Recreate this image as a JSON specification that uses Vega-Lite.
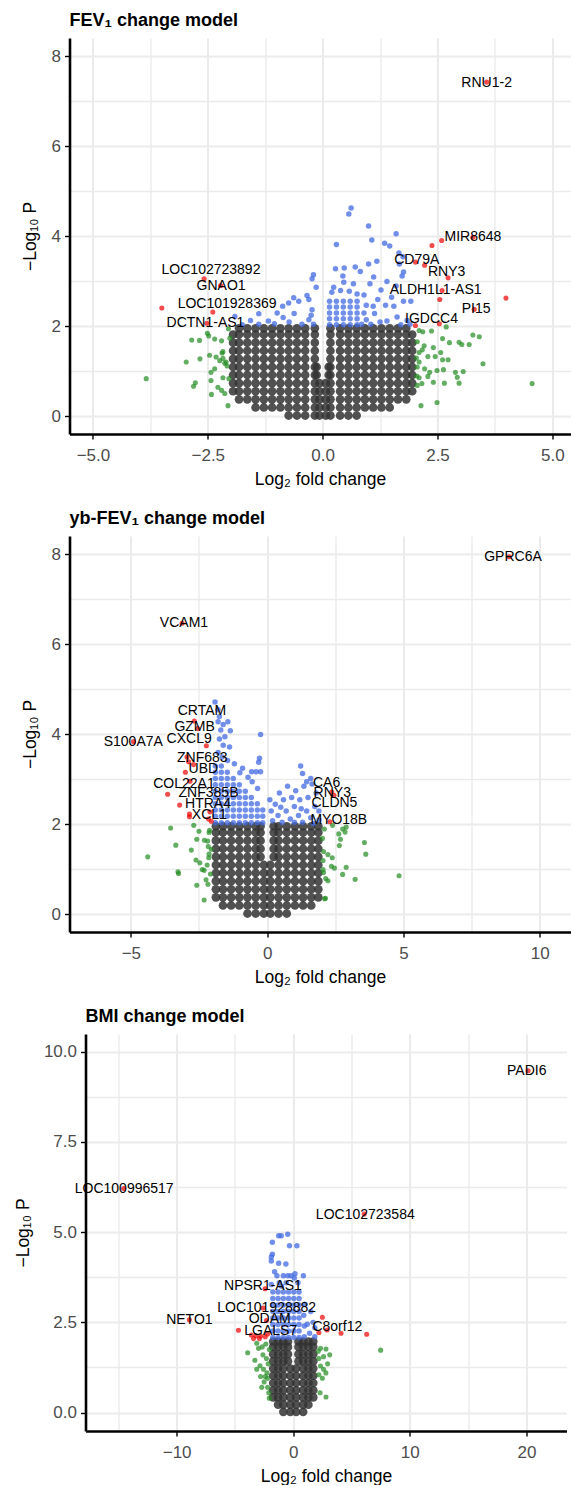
{
"$schema": "https://vega.github.io/schema/vega-lite/v6.json",
"background": "white",
"padding": {"left": 13.5, "top": 12, "right": 0, "bottom": 0},
"spacing": 22,
"columns": 1,
"config": {
  "font": "Liberation Sans",
  "view": {"stroke": null},
  "axis": {"domainColor": "black", "domainWidth": 2.6, "tickColor": "black", "tickWidth": 1.4, "tickSize": 5, "labelFontSize": 17, "labelColor": "#4d4d4d", "labelPadding": 4, "titleFontSize": 17.5, "titleFontWeight": "normal", "titleColor": "black", "gridColor": "#ebebeb", "labelFlush": false, "labelOverlap": false},
  "axisX": {"titlePadding": 7, "labelPadding": 8},
  "title": {"fontSize": 18, "fontWeight": "bold", "color": "black", "anchor": "start", "frame": "group", "offset": 8}
},
"datasets": {
"p1_ns": [
{"lfc":-0.07,"nlp":0.02},{"lfc":-0.07,"nlp":0.2},{"lfc":-0.07,"nlp":0.38},{"lfc":-0.07,"nlp":0.56},{"lfc":-0.07,"nlp":0.74},
{"lfc":-0.13,"nlp":0.92},{"lfc":-0.13,"nlp":1.1},
{"lfc":-0.17,"nlp":0.02},{"lfc":-0.17,"nlp":0.2},{"lfc":-0.17,"nlp":0.38},{"lfc":-0.17,"nlp":0.56},{"lfc":-0.17,"nlp":0.74},{"lfc":-0.17,"nlp":0.92},{"lfc":-0.17,"nlp":1.1},{"lfc":-0.17,"nlp":1.28},{"lfc":-0.17,"nlp":1.46},{"lfc":-0.17,"nlp":1.64},{"lfc":-0.17,"nlp":1.82},{"lfc":-0.17,"nlp":1.96},
{"lfc":-0.38,"nlp":0.02},{"lfc":-0.38,"nlp":0.2},{"lfc":-0.38,"nlp":0.38},{"lfc":-0.38,"nlp":0.56},{"lfc":-0.38,"nlp":0.74},{"lfc":-0.38,"nlp":0.92},{"lfc":-0.38,"nlp":1.1},{"lfc":-0.38,"nlp":1.28},{"lfc":-0.38,"nlp":1.46},{"lfc":-0.38,"nlp":1.64},{"lfc":-0.38,"nlp":1.82},{"lfc":-0.38,"nlp":1.96},
{"lfc":-0.56,"nlp":0.02},{"lfc":-0.56,"nlp":0.2},{"lfc":-0.56,"nlp":0.38},{"lfc":-0.56,"nlp":0.56},{"lfc":-0.56,"nlp":0.74},{"lfc":-0.56,"nlp":0.92},{"lfc":-0.56,"nlp":1.1},{"lfc":-0.56,"nlp":1.28},{"lfc":-0.56,"nlp":1.46},{"lfc":-0.56,"nlp":1.64},{"lfc":-0.56,"nlp":1.82},{"lfc":-0.56,"nlp":1.96},
{"lfc":-0.74,"nlp":0.02},{"lfc":-0.74,"nlp":0.2},{"lfc":-0.74,"nlp":0.38},{"lfc":-0.74,"nlp":0.56},{"lfc":-0.74,"nlp":0.74},{"lfc":-0.74,"nlp":0.92},{"lfc":-0.74,"nlp":1.1},{"lfc":-0.74,"nlp":1.28},{"lfc":-0.74,"nlp":1.46},{"lfc":-0.74,"nlp":1.64},{"lfc":-0.74,"nlp":1.82},{"lfc":-0.74,"nlp":1.96},
{"lfc":-0.92,"nlp":0.2},{"lfc":-0.92,"nlp":0.38},{"lfc":-0.92,"nlp":0.56},{"lfc":-0.92,"nlp":0.74},{"lfc":-0.92,"nlp":0.92},{"lfc":-0.92,"nlp":1.1},{"lfc":-0.92,"nlp":1.28},{"lfc":-0.92,"nlp":1.46},{"lfc":-0.92,"nlp":1.64},{"lfc":-0.92,"nlp":1.82},{"lfc":-0.92,"nlp":1.96},
{"lfc":-1.1,"nlp":0.2},{"lfc":-1.1,"nlp":0.38},{"lfc":-1.1,"nlp":0.56},{"lfc":-1.1,"nlp":0.74},{"lfc":-1.1,"nlp":0.92},{"lfc":-1.1,"nlp":1.1},{"lfc":-1.1,"nlp":1.28},{"lfc":-1.1,"nlp":1.46},{"lfc":-1.1,"nlp":1.64},{"lfc":-1.1,"nlp":1.82},{"lfc":-1.1,"nlp":1.96},
{"lfc":-1.28,"nlp":0.2},{"lfc":-1.28,"nlp":0.38},{"lfc":-1.28,"nlp":0.56},{"lfc":-1.28,"nlp":0.74},{"lfc":-1.28,"nlp":0.92},{"lfc":-1.28,"nlp":1.1},{"lfc":-1.28,"nlp":1.28},{"lfc":-1.28,"nlp":1.46},{"lfc":-1.28,"nlp":1.64},{"lfc":-1.28,"nlp":1.82},{"lfc":-1.28,"nlp":1.96},
{"lfc":-1.46,"nlp":0.2},{"lfc":-1.46,"nlp":0.38},{"lfc":-1.46,"nlp":0.56},{"lfc":-1.46,"nlp":0.74},{"lfc":-1.46,"nlp":0.92},{"lfc":-1.46,"nlp":1.1},{"lfc":-1.46,"nlp":1.28},{"lfc":-1.46,"nlp":1.46},{"lfc":-1.46,"nlp":1.64},{"lfc":-1.46,"nlp":1.82},{"lfc":-1.46,"nlp":1.96},
{"lfc":-1.64,"nlp":0.38},{"lfc":-1.64,"nlp":0.56},{"lfc":-1.64,"nlp":0.74},{"lfc":-1.64,"nlp":0.92},{"lfc":-1.64,"nlp":1.1},{"lfc":-1.64,"nlp":1.28},{"lfc":-1.64,"nlp":1.46},{"lfc":-1.64,"nlp":1.64},{"lfc":-1.64,"nlp":1.82},{"lfc":-1.64,"nlp":1.96},
{"lfc":-1.82,"nlp":0.38},{"lfc":-1.82,"nlp":0.56},{"lfc":-1.82,"nlp":0.74},{"lfc":-1.82,"nlp":0.92},{"lfc":-1.82,"nlp":1.1},{"lfc":-1.82,"nlp":1.28},{"lfc":-1.82,"nlp":1.46},{"lfc":-1.82,"nlp":1.64},{"lfc":-1.82,"nlp":1.82},{"lfc":-1.82,"nlp":1.96},
{"lfc":-1.95,"nlp":0.56},{"lfc":-1.95,"nlp":0.74},{"lfc":-1.95,"nlp":0.92},{"lfc":-1.95,"nlp":1.1},{"lfc":-1.95,"nlp":1.28},{"lfc":-1.95,"nlp":1.46},{"lfc":-1.95,"nlp":1.64},{"lfc":-1.95,"nlp":1.82},
{"lfc":0.07,"nlp":0.02},{"lfc":0.07,"nlp":0.2},{"lfc":0.07,"nlp":0.38},{"lfc":0.07,"nlp":0.56},{"lfc":0.07,"nlp":0.74},
{"lfc":0.13,"nlp":0.92},{"lfc":0.13,"nlp":1.1},
{"lfc":0.17,"nlp":0.02},{"lfc":0.17,"nlp":0.2},{"lfc":0.17,"nlp":0.38},{"lfc":0.17,"nlp":0.56},{"lfc":0.17,"nlp":0.74},{"lfc":0.17,"nlp":0.92},{"lfc":0.17,"nlp":1.1},{"lfc":0.17,"nlp":1.28},{"lfc":0.17,"nlp":1.46},{"lfc":0.17,"nlp":1.64},{"lfc":0.17,"nlp":1.82},{"lfc":0.17,"nlp":1.96},
{"lfc":0.38,"nlp":0.02},{"lfc":0.38,"nlp":0.2},{"lfc":0.38,"nlp":0.38},{"lfc":0.38,"nlp":0.56},{"lfc":0.38,"nlp":0.74},{"lfc":0.38,"nlp":0.92},{"lfc":0.38,"nlp":1.1},{"lfc":0.38,"nlp":1.28},{"lfc":0.38,"nlp":1.46},{"lfc":0.38,"nlp":1.64},{"lfc":0.38,"nlp":1.82},{"lfc":0.38,"nlp":1.96},
{"lfc":0.56,"nlp":0.02},{"lfc":0.56,"nlp":0.2},{"lfc":0.56,"nlp":0.38},{"lfc":0.56,"nlp":0.56},{"lfc":0.56,"nlp":0.74},{"lfc":0.56,"nlp":0.92},{"lfc":0.56,"nlp":1.1},{"lfc":0.56,"nlp":1.28},{"lfc":0.56,"nlp":1.46},{"lfc":0.56,"nlp":1.64},{"lfc":0.56,"nlp":1.82},{"lfc":0.56,"nlp":1.96},
{"lfc":0.74,"nlp":0.02},{"lfc":0.74,"nlp":0.2},{"lfc":0.74,"nlp":0.38},{"lfc":0.74,"nlp":0.56},{"lfc":0.74,"nlp":0.74},{"lfc":0.74,"nlp":0.92},{"lfc":0.74,"nlp":1.1},{"lfc":0.74,"nlp":1.28},{"lfc":0.74,"nlp":1.46},{"lfc":0.74,"nlp":1.64},{"lfc":0.74,"nlp":1.82},{"lfc":0.74,"nlp":1.96},
{"lfc":0.92,"nlp":0.2},{"lfc":0.92,"nlp":0.38},{"lfc":0.92,"nlp":0.56},{"lfc":0.92,"nlp":0.74},{"lfc":0.92,"nlp":0.92},{"lfc":0.92,"nlp":1.1},{"lfc":0.92,"nlp":1.28},{"lfc":0.92,"nlp":1.46},{"lfc":0.92,"nlp":1.64},{"lfc":0.92,"nlp":1.82},{"lfc":0.92,"nlp":1.96},
{"lfc":1.1,"nlp":0.2},{"lfc":1.1,"nlp":0.38},{"lfc":1.1,"nlp":0.56},{"lfc":1.1,"nlp":0.74},{"lfc":1.1,"nlp":0.92},{"lfc":1.1,"nlp":1.1},{"lfc":1.1,"nlp":1.28},{"lfc":1.1,"nlp":1.46},{"lfc":1.1,"nlp":1.64},{"lfc":1.1,"nlp":1.82},{"lfc":1.1,"nlp":1.96},
{"lfc":1.28,"nlp":0.2},{"lfc":1.28,"nlp":0.38},{"lfc":1.28,"nlp":0.56},{"lfc":1.28,"nlp":0.74},{"lfc":1.28,"nlp":0.92},{"lfc":1.28,"nlp":1.1},{"lfc":1.28,"nlp":1.28},{"lfc":1.28,"nlp":1.46},{"lfc":1.28,"nlp":1.64},{"lfc":1.28,"nlp":1.82},{"lfc":1.28,"nlp":1.96},
{"lfc":1.46,"nlp":0.2},{"lfc":1.46,"nlp":0.38},{"lfc":1.46,"nlp":0.56},{"lfc":1.46,"nlp":0.74},{"lfc":1.46,"nlp":0.92},{"lfc":1.46,"nlp":1.1},{"lfc":1.46,"nlp":1.28},{"lfc":1.46,"nlp":1.46},{"lfc":1.46,"nlp":1.64},{"lfc":1.46,"nlp":1.82},{"lfc":1.46,"nlp":1.96},
{"lfc":1.64,"nlp":0.38},{"lfc":1.64,"nlp":0.56},{"lfc":1.64,"nlp":0.74},{"lfc":1.64,"nlp":0.92},{"lfc":1.64,"nlp":1.1},{"lfc":1.64,"nlp":1.28},{"lfc":1.64,"nlp":1.46},{"lfc":1.64,"nlp":1.64},{"lfc":1.64,"nlp":1.82},{"lfc":1.64,"nlp":1.96},
{"lfc":1.82,"nlp":0.38},{"lfc":1.82,"nlp":0.56},{"lfc":1.82,"nlp":0.74},{"lfc":1.82,"nlp":0.92},{"lfc":1.82,"nlp":1.1},{"lfc":1.82,"nlp":1.28},{"lfc":1.82,"nlp":1.46},{"lfc":1.82,"nlp":1.64},{"lfc":1.82,"nlp":1.82},{"lfc":1.82,"nlp":1.96},
{"lfc":1.95,"nlp":0.56},{"lfc":1.95,"nlp":0.74},{"lfc":1.95,"nlp":0.92},{"lfc":1.95,"nlp":1.1},{"lfc":1.95,"nlp":1.28},{"lfc":1.95,"nlp":1.46},{"lfc":1.95,"nlp":1.64},{"lfc":1.95,"nlp":1.82}
],
"p1_fc": [
{"lfc":-3.84,"nlp":0.84},{"lfc":-2.97,"nlp":1.21},{"lfc":-2.81,"nlp":0.67},{"lfc":-2.77,"nlp":0.75},{"lfc":-2.85,"nlp":1.7},{"lfc":-2.68,"nlp":1.69},{"lfc":-2.67,"nlp":1.28},{"lfc":-2.51,"nlp":1.85},{"lfc":-2.48,"nlp":1.79},{"lfc":-2.46,"nlp":1.36},{"lfc":-2.43,"nlp":0.98},{"lfc":-2.43,"nlp":0.8},{"lfc":-2.42,"nlp":0.49},{"lfc":-2.35,"nlp":1.72},{"lfc":-2.32,"nlp":1.32},{"lfc":-2.28,"nlp":0.65},{"lfc":-2.24,"nlp":1.24},{"lfc":-2.2,"nlp":1.68},{"lfc":-2.19,"nlp":1.41},{"lfc":-2.17,"nlp":1.29},{"lfc":-2.13,"nlp":1.18},{"lfc":-2.1,"nlp":1.21},{"lfc":-2.17,"nlp":0.86},{"lfc":-2.2,"nlp":0.58},{"lfc":-2.13,"nlp":0.51},{"lfc":-2.06,"nlp":0.24},{"lfc":-2.04,"nlp":0.84},{"lfc":-2.02,"nlp":1.74},{"lfc":-2.17,"nlp":1.44},{"lfc":-2.35,"nlp":1.06},{"lfc":-2.08,"nlp":1.12},{"lfc":-2.05,"nlp":1.95},
{"lfc":2.1,"nlp":1.91},{"lfc":2.18,"nlp":1.88},{"lfc":2.37,"nlp":1.9},{"lfc":2.69,"nlp":1.99},{"lfc":2.61,"nlp":1.73},{"lfc":2.06,"nlp":1.66},{"lfc":2.21,"nlp":1.57},{"lfc":2.17,"nlp":1.48},{"lfc":2.1,"nlp":1.42},{"lfc":2.41,"nlp":1.53},{"lfc":2.76,"nlp":1.64},{"lfc":2.97,"nlp":1.65},{"lfc":3.03,"nlp":1.6},{"lfc":3.19,"nlp":1.6},{"lfc":3.27,"nlp":1.81},{"lfc":3.41,"nlp":1.77},{"lfc":2.29,"nlp":1.33},{"lfc":2.45,"nlp":1.33},{"lfc":2.57,"nlp":1.42},{"lfc":2.61,"nlp":1.26},{"lfc":2.73,"nlp":1.26},{"lfc":2.1,"nlp":1.21},{"lfc":2.06,"nlp":1.1},{"lfc":2.22,"nlp":1.06},{"lfc":2.33,"nlp":0.98},{"lfc":2.49,"nlp":1.02},{"lfc":2.63,"nlp":1.04},{"lfc":2.89,"nlp":0.98},{"lfc":3.06,"nlp":1.0},{"lfc":2.93,"nlp":0.87},{"lfc":2.97,"nlp":0.74},{"lfc":3.49,"nlp":1.17},{"lfc":2.29,"nlp":0.89},{"lfc":2.1,"nlp":0.86},{"lfc":2.16,"nlp":0.73},{"lfc":2.06,"nlp":0.69},{"lfc":2.41,"nlp":0.76},{"lfc":2.65,"nlp":0.74},{"lfc":2.14,"nlp":0.24},{"lfc":2.49,"nlp":0.31},{"lfc":4.56,"nlp":0.73},{"lfc":2.04,"nlp":1.3},{"lfc":2.05,"nlp":0.9}
],
"p1_p": [
{"lfc":0.62,"nlp":4.63},{"lfc":0.57,"nlp":4.5},{"lfc":1.0,"nlp":4.23},{"lfc":1.6,"nlp":4.06},{"lfc":1.07,"nlp":3.92},{"lfc":1.35,"nlp":3.85},{"lfc":1.46,"nlp":3.79},{"lfc":0.3,"nlp":3.82},{"lfc":1.66,"nlp":3.63},{"lfc":1.75,"nlp":3.55},{"lfc":1.18,"nlp":3.45},{"lfc":1.0,"nlp":3.39},{"lfc":0.71,"nlp":3.32},{"lfc":0.82,"nlp":3.22},{"lfc":0.47,"nlp":3.3},{"lfc":0.28,"nlp":3.28},{"lfc":-0.2,"nlp":3.15},{"lfc":-0.23,"nlp":3.06},{"lfc":0.44,"nlp":3.12},{"lfc":1.76,"nlp":3.21},{"lfc":1.73,"nlp":3.12},{"lfc":1.11,"nlp":3.1},{"lfc":1.67,"nlp":3.39},{"lfc":0.67,"nlp":2.95},{"lfc":1.03,"nlp":2.95},{"lfc":1.27,"nlp":2.81},{"lfc":0.46,"nlp":2.98},{"lfc":0.24,"nlp":2.87},{"lfc":0.2,"nlp":2.76},{"lfc":0.39,"nlp":2.8},{"lfc":-0.14,"nlp":2.87},{"lfc":-0.34,"nlp":2.69},{"lfc":-0.3,"nlp":2.6},{"lfc":-0.63,"nlp":2.64},{"lfc":-0.52,"nlp":2.56},{"lfc":-0.74,"nlp":2.52},{"lfc":-0.87,"nlp":2.45},{"lfc":-0.99,"nlp":2.3},{"lfc":-1.39,"nlp":2.28},{"lfc":-1.91,"nlp":2.22},{"lfc":-0.86,"nlp":2.2},{"lfc":-0.62,"nlp":2.29},{"lfc":-0.23,"nlp":2.37},{"lfc":0.95,"nlp":2.47},{"lfc":1.1,"nlp":2.45},{"lfc":1.37,"nlp":2.47},{"lfc":1.55,"nlp":2.45},{"lfc":1.76,"nlp":2.56},{"lfc":1.92,"nlp":2.56},{"lfc":1.13,"nlp":2.29},{"lfc":1.4,"nlp":2.12},{"lfc":1.62,"nlp":2.21},{"lfc":1.84,"nlp":2.13},{"lfc":-1.18,"nlp":2.12},{"lfc":-1.57,"nlp":2.13},{"lfc":-1.39,"nlp":2.05},{"lfc":-0.73,"nlp":2.1},{"lfc":-1.75,"nlp":2.04},{"lfc":-1.05,"nlp":2.06},{"lfc":-0.45,"nlp":2.05},{"lfc":-0.3,"nlp":2.15},{"lfc":-0.2,"nlp":2.05},{"lfc":-0.25,"nlp":2.25},{"lfc":1.05,"nlp":2.05},{"lfc":1.25,"nlp":2.1},{"lfc":1.7,"nlp":2.04},{"lfc":0.95,"nlp":2.15},{"lfc":1.9,"nlp":2.05},{"lfc":0.9,"nlp":2.7},{"lfc":1.5,"nlp":2.65},{"lfc":1.2,"nlp":2.6},{"lfc":0.58,"nlp":2.78},{"lfc":0.75,"nlp":2.72},{"lfc":1.6,"nlp":2.9},{"lfc":1.4,"nlp":3.0},
{"lfc":0.15,"nlp":2.04},{"lfc":0.15,"nlp":2.17},{"lfc":0.15,"nlp":2.3},{"lfc":0.15,"nlp":2.43},{"lfc":0.15,"nlp":2.56},
{"lfc":0.3,"nlp":2.04},{"lfc":0.3,"nlp":2.17},{"lfc":0.3,"nlp":2.3},{"lfc":0.3,"nlp":2.43},{"lfc":0.3,"nlp":2.56},
{"lfc":0.45,"nlp":2.04},{"lfc":0.45,"nlp":2.17},{"lfc":0.45,"nlp":2.3},{"lfc":0.45,"nlp":2.43},{"lfc":0.45,"nlp":2.56},
{"lfc":0.6,"nlp":2.04},{"lfc":0.6,"nlp":2.17},{"lfc":0.6,"nlp":2.3},{"lfc":0.6,"nlp":2.43},{"lfc":0.6,"nlp":2.56},
{"lfc":0.75,"nlp":2.04},{"lfc":0.75,"nlp":2.17},{"lfc":0.75,"nlp":2.3},{"lfc":0.75,"nlp":2.43},{"lfc":0.75,"nlp":2.56},
{"lfc":0.9,"nlp":2.3},{"lfc":0.85,"nlp":2.05}
],
"p1_both": [
{"lfc":3.57,"nlp":7.43},{"lfc":2.38,"nlp":3.8},{"lfc":2.59,"nlp":3.91},{"lfc":3.27,"nlp":3.98},{"lfc":2.02,"nlp":3.43},{"lfc":2.22,"nlp":3.36},{"lfc":2.73,"nlp":3.08},{"lfc":2.6,"nlp":2.8},{"lfc":2.55,"nlp":2.6},{"lfc":3.99,"nlp":2.63},{"lfc":3.3,"nlp":2.38},{"lfc":2.54,"nlp":2.06},{"lfc":2.02,"nlp":2.02},{"lfc":-2.58,"nlp":3.06},{"lfc":-3.5,"nlp":2.41},{"lfc":-2.39,"nlp":2.32},{"lfc":-2.52,"nlp":2.07},{"lfc":-2.22,"nlp":2.91}
],
"p1_lab": [
{"gene":"RNU1-2","lfc":3.57,"nlp":7.41},{"gene":"MIR8648","lfc":3.27,"nlp":3.98},{"gene":"CD79A","lfc":2.05,"nlp":3.47},{"gene":"RNY3","lfc":2.7,"nlp":3.22},{"gene":"ALDH1L1-AS1","lfc":2.46,"nlp":2.8},{"gene":"PI15","lfc":3.34,"nlp":2.39},{"gene":"IGDCC4","lfc":2.37,"nlp":2.16},{"gene":"LOC102723892","lfc":-2.43,"nlp":3.26},{"gene":"GNAO1","lfc":-2.21,"nlp":2.91},{"gene":"LOC101928369","lfc":-2.08,"nlp":2.49},{"gene":"DCTN1-AS1","lfc":-2.55,"nlp":2.08}
],
"p2_ns": [
{"lfc":-0.12,"nlp":0.02},{"lfc":-0.12,"nlp":0.2},{"lfc":-0.12,"nlp":0.38},{"lfc":-0.12,"nlp":0.56},{"lfc":-0.12,"nlp":0.74},{"lfc":-0.12,"nlp":0.92},{"lfc":-0.12,"nlp":1.1},
{"lfc":-0.24,"nlp":1.28},{"lfc":-0.24,"nlp":1.46},{"lfc":-0.24,"nlp":1.64},{"lfc":-0.24,"nlp":1.82},{"lfc":-0.24,"nlp":1.96},
{"lfc":-0.42,"nlp":0.02},{"lfc":-0.42,"nlp":0.2},{"lfc":-0.42,"nlp":0.38},{"lfc":-0.42,"nlp":0.56},{"lfc":-0.42,"nlp":0.74},{"lfc":-0.42,"nlp":0.92},{"lfc":-0.42,"nlp":1.1},{"lfc":-0.42,"nlp":1.28},{"lfc":-0.42,"nlp":1.46},{"lfc":-0.42,"nlp":1.64},{"lfc":-0.42,"nlp":1.82},{"lfc":-0.42,"nlp":1.96},
{"lfc":-0.72,"nlp":0.02},{"lfc":-0.72,"nlp":0.2},{"lfc":-0.72,"nlp":0.38},{"lfc":-0.72,"nlp":0.56},{"lfc":-0.72,"nlp":0.74},{"lfc":-0.72,"nlp":0.92},{"lfc":-0.72,"nlp":1.1},{"lfc":-0.72,"nlp":1.28},{"lfc":-0.72,"nlp":1.46},{"lfc":-0.72,"nlp":1.64},{"lfc":-0.72,"nlp":1.82},{"lfc":-0.72,"nlp":1.96},
{"lfc":-1.02,"nlp":0.2},{"lfc":-1.02,"nlp":0.38},{"lfc":-1.02,"nlp":0.56},{"lfc":-1.02,"nlp":0.74},{"lfc":-1.02,"nlp":0.92},{"lfc":-1.02,"nlp":1.1},{"lfc":-1.02,"nlp":1.28},{"lfc":-1.02,"nlp":1.46},{"lfc":-1.02,"nlp":1.64},{"lfc":-1.02,"nlp":1.82},{"lfc":-1.02,"nlp":1.96},
{"lfc":-1.32,"nlp":0.2},{"lfc":-1.32,"nlp":0.38},{"lfc":-1.32,"nlp":0.56},{"lfc":-1.32,"nlp":0.74},{"lfc":-1.32,"nlp":0.92},{"lfc":-1.32,"nlp":1.1},{"lfc":-1.32,"nlp":1.28},{"lfc":-1.32,"nlp":1.46},{"lfc":-1.32,"nlp":1.64},{"lfc":-1.32,"nlp":1.82},{"lfc":-1.32,"nlp":1.96},
{"lfc":-1.62,"nlp":0.2},{"lfc":-1.62,"nlp":0.38},{"lfc":-1.62,"nlp":0.56},{"lfc":-1.62,"nlp":0.74},{"lfc":-1.62,"nlp":0.92},{"lfc":-1.62,"nlp":1.1},{"lfc":-1.62,"nlp":1.28},{"lfc":-1.62,"nlp":1.46},{"lfc":-1.62,"nlp":1.64},{"lfc":-1.62,"nlp":1.82},{"lfc":-1.62,"nlp":1.96},
{"lfc":-1.88,"nlp":0.38},{"lfc":-1.88,"nlp":0.56},{"lfc":-1.88,"nlp":0.74},{"lfc":-1.88,"nlp":0.92},{"lfc":-1.88,"nlp":1.1},{"lfc":-1.88,"nlp":1.28},{"lfc":-1.88,"nlp":1.46},{"lfc":-1.88,"nlp":1.64},{"lfc":-1.88,"nlp":1.82},{"lfc":-1.88,"nlp":1.96},
{"lfc":0.12,"nlp":0.02},{"lfc":0.12,"nlp":0.2},{"lfc":0.12,"nlp":0.38},{"lfc":0.12,"nlp":0.56},{"lfc":0.12,"nlp":0.74},{"lfc":0.12,"nlp":0.92},{"lfc":0.12,"nlp":1.1},
{"lfc":0.24,"nlp":1.28},{"lfc":0.24,"nlp":1.46},{"lfc":0.24,"nlp":1.64},{"lfc":0.24,"nlp":1.82},{"lfc":0.24,"nlp":1.96},
{"lfc":0.42,"nlp":0.02},{"lfc":0.42,"nlp":0.2},{"lfc":0.42,"nlp":0.38},{"lfc":0.42,"nlp":0.56},{"lfc":0.42,"nlp":0.74},{"lfc":0.42,"nlp":0.92},{"lfc":0.42,"nlp":1.1},{"lfc":0.42,"nlp":1.28},{"lfc":0.42,"nlp":1.46},{"lfc":0.42,"nlp":1.64},{"lfc":0.42,"nlp":1.82},{"lfc":0.42,"nlp":1.96},
{"lfc":0.72,"nlp":0.02},{"lfc":0.72,"nlp":0.2},{"lfc":0.72,"nlp":0.38},{"lfc":0.72,"nlp":0.56},{"lfc":0.72,"nlp":0.74},{"lfc":0.72,"nlp":0.92},{"lfc":0.72,"nlp":1.1},{"lfc":0.72,"nlp":1.28},{"lfc":0.72,"nlp":1.46},{"lfc":0.72,"nlp":1.64},{"lfc":0.72,"nlp":1.82},{"lfc":0.72,"nlp":1.96},
{"lfc":1.02,"nlp":0.2},{"lfc":1.02,"nlp":0.38},{"lfc":1.02,"nlp":0.56},{"lfc":1.02,"nlp":0.74},{"lfc":1.02,"nlp":0.92},{"lfc":1.02,"nlp":1.1},{"lfc":1.02,"nlp":1.28},{"lfc":1.02,"nlp":1.46},{"lfc":1.02,"nlp":1.64},{"lfc":1.02,"nlp":1.82},{"lfc":1.02,"nlp":1.96},
{"lfc":1.32,"nlp":0.2},{"lfc":1.32,"nlp":0.38},{"lfc":1.32,"nlp":0.56},{"lfc":1.32,"nlp":0.74},{"lfc":1.32,"nlp":0.92},{"lfc":1.32,"nlp":1.1},{"lfc":1.32,"nlp":1.28},{"lfc":1.32,"nlp":1.46},{"lfc":1.32,"nlp":1.64},{"lfc":1.32,"nlp":1.82},{"lfc":1.32,"nlp":1.96},
{"lfc":1.62,"nlp":0.2},{"lfc":1.62,"nlp":0.38},{"lfc":1.62,"nlp":0.56},{"lfc":1.62,"nlp":0.74},{"lfc":1.62,"nlp":0.92},{"lfc":1.62,"nlp":1.1},{"lfc":1.62,"nlp":1.28},{"lfc":1.62,"nlp":1.46},{"lfc":1.62,"nlp":1.64},{"lfc":1.62,"nlp":1.82},{"lfc":1.62,"nlp":1.96},
{"lfc":1.88,"nlp":0.38},{"lfc":1.88,"nlp":0.56},{"lfc":1.88,"nlp":0.74},{"lfc":1.88,"nlp":0.92},{"lfc":1.88,"nlp":1.1},{"lfc":1.88,"nlp":1.28},{"lfc":1.88,"nlp":1.46},{"lfc":1.88,"nlp":1.64},{"lfc":1.88,"nlp":1.82},{"lfc":1.88,"nlp":1.96}
],
"p2_fc": [
{"lfc":-4.38,"nlp":1.28},{"lfc":-3.54,"nlp":1.92},{"lfc":-3.35,"nlp":1.54},{"lfc":-3.25,"nlp":0.91},{"lfc":-3.27,"nlp":0.95},{"lfc":-2.78,"nlp":1.43},{"lfc":-2.69,"nlp":1.98},{"lfc":-2.58,"nlp":1.67},{"lfc":-2.61,"nlp":1.21},{"lfc":-2.47,"nlp":1.15},{"lfc":-2.58,"nlp":0.65},{"lfc":-2.38,"nlp":1.0},{"lfc":-2.31,"nlp":0.98},{"lfc":-2.31,"nlp":0.32},{"lfc":-2.24,"nlp":0.77},{"lfc":-2.17,"nlp":0.67},{"lfc":-2.3,"nlp":1.65},{"lfc":-2.18,"nlp":1.63},{"lfc":-2.16,"nlp":1.51},{"lfc":-2.13,"nlp":1.34},{"lfc":-2.14,"nlp":1.26},{"lfc":-2.11,"nlp":1.87},{"lfc":-2.13,"nlp":1.82},{"lfc":-2.5,"nlp":1.85},{"lfc":-2.2,"nlp":1.1},{"lfc":-2.08,"nlp":0.9},{"lfc":-2.05,"nlp":1.45},
{"lfc":2.03,"nlp":1.69},{"lfc":2.07,"nlp":1.4},{"lfc":2.23,"nlp":1.33},{"lfc":2.39,"nlp":1.26},{"lfc":2.05,"nlp":1.0},{"lfc":2.07,"nlp":0.93},{"lfc":2.15,"nlp":0.8},{"lfc":2.23,"nlp":0.75},{"lfc":2.11,"nlp":0.35},{"lfc":2.14,"nlp":0.36},{"lfc":2.36,"nlp":1.07},{"lfc":2.47,"nlp":1.03},{"lfc":2.63,"nlp":1.79},{"lfc":2.77,"nlp":1.9},{"lfc":2.65,"nlp":1.53},{"lfc":2.69,"nlp":1.67},{"lfc":2.86,"nlp":1.83},{"lfc":2.77,"nlp":0.89},{"lfc":2.9,"nlp":1.05},{"lfc":3.23,"nlp":0.78},{"lfc":3.57,"nlp":1.6},{"lfc":3.62,"nlp":1.34},{"lfc":4.84,"nlp":0.86},{"lfc":2.9,"nlp":1.94},{"lfc":2.4,"nlp":1.98},{"lfc":2.1,"nlp":1.9},{"lfc":2.05,"nlp":1.2}
],
"p2_p": [
{"lfc":-1.9,"nlp":2.04},{"lfc":-1.9,"nlp":2.18},{"lfc":-1.9,"nlp":2.32},{"lfc":-1.9,"nlp":2.46},{"lfc":-1.9,"nlp":2.6},{"lfc":-1.9,"nlp":2.74},{"lfc":-1.9,"nlp":2.88},{"lfc":-1.9,"nlp":3.02},{"lfc":-1.9,"nlp":3.16},{"lfc":-1.9,"nlp":3.3},
{"lfc":-1.68,"nlp":2.04},{"lfc":-1.68,"nlp":2.18},{"lfc":-1.68,"nlp":2.32},{"lfc":-1.68,"nlp":2.46},{"lfc":-1.68,"nlp":2.6},{"lfc":-1.68,"nlp":2.74},{"lfc":-1.68,"nlp":2.88},{"lfc":-1.68,"nlp":3.02},{"lfc":-1.68,"nlp":3.16},{"lfc":-1.68,"nlp":3.3},
{"lfc":-1.46,"nlp":2.04},{"lfc":-1.46,"nlp":2.18},{"lfc":-1.46,"nlp":2.32},{"lfc":-1.46,"nlp":2.46},{"lfc":-1.46,"nlp":2.6},{"lfc":-1.46,"nlp":2.74},{"lfc":-1.46,"nlp":2.88},{"lfc":-1.46,"nlp":3.02},{"lfc":-1.46,"nlp":3.16},
{"lfc":-1.24,"nlp":2.04},{"lfc":-1.24,"nlp":2.18},{"lfc":-1.24,"nlp":2.32},{"lfc":-1.24,"nlp":2.46},{"lfc":-1.24,"nlp":2.6},{"lfc":-1.24,"nlp":2.74},{"lfc":-1.24,"nlp":2.88},{"lfc":-1.24,"nlp":3.02},
{"lfc":-1.02,"nlp":2.04},{"lfc":-1.02,"nlp":2.18},{"lfc":-1.02,"nlp":2.32},{"lfc":-1.02,"nlp":2.46},{"lfc":-1.02,"nlp":2.6},{"lfc":-1.02,"nlp":2.74},{"lfc":-1.02,"nlp":2.88},
{"lfc":-0.8,"nlp":2.04},{"lfc":-0.8,"nlp":2.18},{"lfc":-0.8,"nlp":2.32},{"lfc":-0.8,"nlp":2.46},{"lfc":-0.8,"nlp":2.6},{"lfc":-0.8,"nlp":2.74},
{"lfc":-0.58,"nlp":2.04},{"lfc":-0.58,"nlp":2.18},{"lfc":-0.58,"nlp":2.32},{"lfc":-0.58,"nlp":2.46},{"lfc":-0.58,"nlp":2.6},
{"lfc":-0.36,"nlp":2.04},{"lfc":-0.36,"nlp":2.18},{"lfc":-0.36,"nlp":2.32},{"lfc":-0.36,"nlp":2.46},
{"lfc":-0.16,"nlp":2.04},{"lfc":-0.16,"nlp":2.18},{"lfc":-0.16,"nlp":2.32},
{"lfc":0.2,"nlp":2.08},{"lfc":0.4,"nlp":2.2},{"lfc":0.55,"nlp":2.05},{"lfc":0.7,"nlp":2.3},{"lfc":0.85,"nlp":2.12},{"lfc":1.0,"nlp":2.4},{"lfc":1.15,"nlp":2.2},{"lfc":1.3,"nlp":2.05},{"lfc":1.45,"nlp":2.3},{"lfc":1.6,"nlp":2.15},{"lfc":1.75,"nlp":2.4},{"lfc":1.9,"nlp":2.1},{"lfc":0.3,"nlp":2.45},{"lfc":0.6,"nlp":2.55},{"lfc":0.9,"nlp":2.6},{"lfc":1.2,"nlp":2.55},{"lfc":1.5,"nlp":2.6},{"lfc":1.8,"nlp":2.7},{"lfc":0.45,"nlp":2.7},{"lfc":1.05,"nlp":2.75},{"lfc":1.35,"nlp":2.85},{"lfc":1.65,"nlp":2.9},{"lfc":0.15,"nlp":2.3},{"lfc":0.75,"nlp":2.85},{"lfc":1.9,"nlp":2.3},{"lfc":1.25,"nlp":2.35},{"lfc":0.5,"nlp":2.38},{"lfc":1.0,"nlp":2.05},{"lfc":1.7,"nlp":2.02},{"lfc":0.1,"nlp":2.55},
{"lfc":1.23,"nlp":3.3},{"lfc":1.3,"nlp":3.13},{"lfc":1.6,"nlp":3.02},{"lfc":1.45,"nlp":2.95},
{"lfc":-1.91,"nlp":4.72},{"lfc":-1.8,"nlp":4.55},{"lfc":-1.75,"nlp":4.4},{"lfc":-1.8,"nlp":4.28},{"lfc":-1.61,"nlp":4.22},{"lfc":-1.44,"nlp":4.28},{"lfc":-1.7,"nlp":4.1},{"lfc":-1.35,"nlp":4.08},{"lfc":-1.55,"nlp":3.95},{"lfc":-1.75,"nlp":3.9},{"lfc":-1.61,"nlp":3.76},{"lfc":-1.38,"nlp":3.72},{"lfc":-1.8,"nlp":3.6},{"lfc":-1.65,"nlp":3.5},{"lfc":-1.45,"nlp":3.42},{"lfc":-1.2,"nlp":3.35},{"lfc":-0.9,"nlp":3.25},{"lfc":-0.24,"nlp":4.0},{"lfc":-0.28,"nlp":3.47},{"lfc":-0.31,"nlp":3.38},{"lfc":-0.57,"nlp":3.17},{"lfc":-0.4,"nlp":3.17},{"lfc":-0.24,"nlp":3.17},{"lfc":-0.7,"nlp":3.05},{"lfc":-0.55,"nlp":2.95},{"lfc":-0.35,"nlp":2.8},{"lfc":-1.0,"nlp":3.15}
],
"p2_both": [
{"lfc":8.88,"nlp":7.95},{"lfc":-3.12,"nlp":6.47},{"lfc":-2.67,"nlp":4.3},{"lfc":-2.55,"nlp":4.13},{"lfc":-2.23,"nlp":3.75},{"lfc":-2.94,"nlp":3.5},{"lfc":-2.88,"nlp":3.39},{"lfc":-3.0,"nlp":3.16},{"lfc":-2.83,"nlp":2.96},{"lfc":-3.65,"nlp":2.67},{"lfc":-3.21,"nlp":2.43},{"lfc":-2.85,"nlp":2.23},{"lfc":-2.1,"nlp":2.28},{"lfc":-2.15,"nlp":2.12},{"lfc":-2.05,"nlp":2.07},{"lfc":-2.85,"nlp":2.17},{"lfc":2.37,"nlp":2.72},{"lfc":2.45,"nlp":2.65},{"lfc":2.3,"nlp":2.06},{"lfc":-4.9,"nlp":3.84},{"lfc":-2.7,"nlp":3.33}
],
"p2_lab": [
{"gene":"GPRC6A","lfc":9.02,"nlp":7.95},{"gene":"VCAM1","lfc":-3.05,"nlp":6.47},{"gene":"CRTAM","lfc":-2.39,"nlp":4.52},{"gene":"GZMB","lfc":-2.66,"nlp":4.17},{"gene":"CXCL9","lfc":-2.86,"nlp":3.91},{"gene":"S100A7A","lfc":-4.91,"nlp":3.84},{"gene":"ZNF683","lfc":-2.38,"nlp":3.48},{"gene":"UBD","lfc":-2.34,"nlp":3.23},{"gene":"COL22A1","lfc":-3.05,"nlp":2.91},{"gene":"ZNF385B","lfc":-2.15,"nlp":2.69},{"gene":"HTRA4","lfc":-2.17,"nlp":2.45},{"gene":"XCL1","lfc":-2.12,"nlp":2.21},{"gene":"CA6","lfc":2.18,"nlp":2.93},{"gene":"RNY3","lfc":2.39,"nlp":2.7},{"gene":"CLDN5","lfc":2.47,"nlp":2.48},{"gene":"MYO18B","lfc":2.63,"nlp":2.1}
],
"p3_ns": [
{"lfc":-0.25,"nlp":0.02},{"lfc":-0.25,"nlp":0.22},{"lfc":-0.25,"nlp":0.42},{"lfc":-0.25,"nlp":0.62},{"lfc":-0.25,"nlp":0.82},{"lfc":-0.25,"nlp":1.02},{"lfc":-0.25,"nlp":1.22},
{"lfc":-0.45,"nlp":1.42},{"lfc":-0.45,"nlp":1.62},{"lfc":-0.45,"nlp":1.82},{"lfc":-0.45,"nlp":1.97},
{"lfc":-0.85,"nlp":0.02},{"lfc":-0.85,"nlp":0.22},{"lfc":-0.85,"nlp":0.42},{"lfc":-0.85,"nlp":0.62},{"lfc":-0.85,"nlp":0.82},{"lfc":-0.85,"nlp":1.02},{"lfc":-0.85,"nlp":1.22},{"lfc":-0.85,"nlp":1.42},{"lfc":-0.85,"nlp":1.62},{"lfc":-0.85,"nlp":1.82},{"lfc":-0.85,"nlp":1.97},
{"lfc":-1.3,"nlp":0.22},{"lfc":-1.3,"nlp":0.42},{"lfc":-1.3,"nlp":0.62},{"lfc":-1.3,"nlp":0.82},{"lfc":-1.3,"nlp":1.02},{"lfc":-1.3,"nlp":1.22},{"lfc":-1.3,"nlp":1.42},{"lfc":-1.3,"nlp":1.62},{"lfc":-1.3,"nlp":1.82},{"lfc":-1.3,"nlp":1.97},
{"lfc":-1.72,"nlp":0.42},{"lfc":-1.72,"nlp":0.62},{"lfc":-1.72,"nlp":0.82},{"lfc":-1.72,"nlp":1.02},{"lfc":-1.72,"nlp":1.22},{"lfc":-1.72,"nlp":1.42},{"lfc":-1.72,"nlp":1.62},{"lfc":-1.72,"nlp":1.82},{"lfc":-1.72,"nlp":1.97},
{"lfc":0.25,"nlp":0.02},{"lfc":0.25,"nlp":0.22},{"lfc":0.25,"nlp":0.42},{"lfc":0.25,"nlp":0.62},{"lfc":0.25,"nlp":0.82},{"lfc":0.25,"nlp":1.02},{"lfc":0.25,"nlp":1.22},
{"lfc":0.45,"nlp":1.42},{"lfc":0.45,"nlp":1.62},{"lfc":0.45,"nlp":1.82},{"lfc":0.45,"nlp":1.97},
{"lfc":0.85,"nlp":0.02},{"lfc":0.85,"nlp":0.22},{"lfc":0.85,"nlp":0.42},{"lfc":0.85,"nlp":0.62},{"lfc":0.85,"nlp":0.82},{"lfc":0.85,"nlp":1.02},{"lfc":0.85,"nlp":1.22},{"lfc":0.85,"nlp":1.42},{"lfc":0.85,"nlp":1.62},{"lfc":0.85,"nlp":1.82},{"lfc":0.85,"nlp":1.97},
{"lfc":1.3,"nlp":0.22},{"lfc":1.3,"nlp":0.42},{"lfc":1.3,"nlp":0.62},{"lfc":1.3,"nlp":0.82},{"lfc":1.3,"nlp":1.02},{"lfc":1.3,"nlp":1.22},{"lfc":1.3,"nlp":1.42},{"lfc":1.3,"nlp":1.62},{"lfc":1.3,"nlp":1.82},{"lfc":1.3,"nlp":1.97},
{"lfc":1.72,"nlp":0.42},{"lfc":1.72,"nlp":0.62},{"lfc":1.72,"nlp":0.82},{"lfc":1.72,"nlp":1.02},{"lfc":1.72,"nlp":1.22},{"lfc":1.72,"nlp":1.42},{"lfc":1.72,"nlp":1.62},{"lfc":1.72,"nlp":1.82},{"lfc":1.72,"nlp":1.97}
],
"p3_fc": [
{"lfc":-3.91,"nlp":1.66},{"lfc":-3.13,"nlp":1.92},{"lfc":-2.98,"nlp":1.78},{"lfc":-2.66,"nlp":1.82},{"lfc":-2.35,"nlp":1.9},{"lfc":-3.29,"nlp":1.45},{"lfc":-2.85,"nlp":1.3},{"lfc":-2.55,"nlp":1.2},{"lfc":-2.25,"nlp":1.1},{"lfc":-3.13,"nlp":1.2},{"lfc":-2.8,"nlp":1.0},{"lfc":-2.5,"nlp":0.85},{"lfc":-2.2,"nlp":0.7},{"lfc":-2.1,"nlp":0.55},{"lfc":-2.3,"nlp":1.5},{"lfc":-2.6,"nlp":1.6},{"lfc":-2.15,"nlp":1.35},{"lfc":-2.4,"nlp":1.0},{"lfc":-2.7,"nlp":0.7},{"lfc":-2.2,"nlp":0.95},{"lfc":-2.05,"nlp":1.75},{"lfc":-2.05,"nlp":0.4},
{"lfc":2.34,"nlp":1.78},{"lfc":2.81,"nlp":1.76},{"lfc":3.13,"nlp":1.6},{"lfc":2.6,"nlp":1.55},{"lfc":2.2,"nlp":1.5},{"lfc":2.34,"nlp":1.29},{"lfc":2.6,"nlp":1.2},{"lfc":2.95,"nlp":1.35},{"lfc":2.2,"nlp":1.05},{"lfc":2.5,"nlp":0.95},{"lfc":2.8,"nlp":1.1},{"lfc":2.3,"nlp":0.55},{"lfc":2.81,"nlp":0.43},{"lfc":2.15,"nlp":1.7},{"lfc":7.5,"nlp":1.73}
],
"p3_p": [
{"lfc":-1.75,"nlp":2.08},{"lfc":-1.75,"nlp":2.26},{"lfc":-1.75,"nlp":2.44},{"lfc":-1.75,"nlp":2.62},{"lfc":-1.75,"nlp":2.8},{"lfc":-1.75,"nlp":2.98},{"lfc":-1.75,"nlp":3.16},{"lfc":-1.75,"nlp":3.34},
{"lfc":-1.3,"nlp":2.08},{"lfc":-1.3,"nlp":2.26},{"lfc":-1.3,"nlp":2.44},{"lfc":-1.3,"nlp":2.62},{"lfc":-1.3,"nlp":2.8},{"lfc":-1.3,"nlp":2.98},{"lfc":-1.3,"nlp":3.16},{"lfc":-1.3,"nlp":3.34},
{"lfc":-0.85,"nlp":2.08},{"lfc":-0.85,"nlp":2.26},{"lfc":-0.85,"nlp":2.44},{"lfc":-0.85,"nlp":2.62},{"lfc":-0.85,"nlp":2.8},{"lfc":-0.85,"nlp":2.98},{"lfc":-0.85,"nlp":3.16},{"lfc":-0.85,"nlp":3.34},
{"lfc":-0.4,"nlp":2.08},{"lfc":-0.4,"nlp":2.26},{"lfc":-0.4,"nlp":2.44},{"lfc":-0.4,"nlp":2.62},{"lfc":-0.4,"nlp":2.8},{"lfc":-0.4,"nlp":2.98},{"lfc":-0.4,"nlp":3.16},{"lfc":-0.4,"nlp":3.34},
{"lfc":0.05,"nlp":2.08},{"lfc":0.05,"nlp":2.26},{"lfc":0.05,"nlp":2.44},{"lfc":0.05,"nlp":2.62},{"lfc":0.05,"nlp":2.8},{"lfc":0.05,"nlp":2.98},{"lfc":0.05,"nlp":3.16},{"lfc":0.05,"nlp":3.34},
{"lfc":0.5,"nlp":2.08},{"lfc":0.5,"nlp":2.26},{"lfc":0.5,"nlp":2.44},{"lfc":0.5,"nlp":2.62},{"lfc":0.5,"nlp":2.8},{"lfc":0.5,"nlp":2.98},{"lfc":0.5,"nlp":3.16},{"lfc":0.5,"nlp":3.34},
{"lfc":0.95,"nlp":2.1},{"lfc":1.4,"nlp":2.2},{"lfc":1.85,"nlp":2.1},{"lfc":1.2,"nlp":2.45},{"lfc":1.7,"nlp":2.5},{"lfc":0.9,"nlp":2.7},{"lfc":1.5,"nlp":2.8},{"lfc":1.0,"nlp":3.0},{"lfc":1.85,"nlp":2.35},{"lfc":0.95,"nlp":2.4},
{"lfc":-1.25,"nlp":4.9},{"lfc":-1.03,"nlp":4.9},{"lfc":-0.47,"nlp":4.94},{"lfc":-1.79,"nlp":4.72},{"lfc":-0.32,"nlp":4.62},{"lfc":0.31,"nlp":4.62},{"lfc":-1.79,"nlp":4.39},{"lfc":-1.88,"nlp":4.31},{"lfc":-1.88,"nlp":4.2},{"lfc":-1.25,"nlp":4.14},{"lfc":-0.63,"nlp":4.12},{"lfc":-1.4,"nlp":3.79},{"lfc":-0.47,"nlp":3.79},{"lfc":0.09,"nlp":3.73},{"lfc":0.87,"nlp":3.79},{"lfc":-0.85,"nlp":3.79},{"lfc":-0.19,"nlp":3.79},{"lfc":0.15,"nlp":3.85},{"lfc":-1.88,"nlp":3.55},{"lfc":-1.2,"nlp":3.6},{"lfc":-0.6,"nlp":3.6},{"lfc":0.4,"nlp":3.6},{"lfc":-1.6,"nlp":3.9},{"lfc":-1.0,"nlp":3.5}
],
"p3_both": [
{"lfc":-14.54,"nlp":6.21},{"lfc":6.09,"nlp":5.5},{"lfc":20.15,"nlp":9.47},{"lfc":-8.91,"nlp":2.57},{"lfc":-2.42,"nlp":3.43},{"lfc":2.5,"nlp":2.64},{"lfc":-4.7,"nlp":2.28},{"lfc":-3.6,"nlp":2.15},{"lfc":-3.2,"nlp":2.13},{"lfc":-2.8,"nlp":2.12},{"lfc":-2.4,"nlp":2.1},{"lfc":-2.9,"nlp":2.05},{"lfc":-3.4,"nlp":2.05},{"lfc":-2.2,"nlp":2.18},{"lfc":2.2,"nlp":2.22},{"lfc":2.9,"nlp":2.29},{"lfc":4.1,"nlp":2.2},{"lfc":6.3,"nlp":2.17},{"lfc":-2.3,"nlp":2.55},{"lfc":-2.6,"nlp":2.9}
],
"p3_lab": [
{"gene":"PADI6","lfc":20.03,"nlp":9.47},{"gene":"LOC100996517","lfc":-14.5,"nlp":6.2},{"gene":"LOC102723584","lfc":6.18,"nlp":5.47},{"gene":"NPSR1-AS1","lfc":-2.6,"nlp":3.5},{"gene":"LOC101928882","lfc":-2.28,"nlp":2.91},{"gene":"NETO1","lfc":-8.91,"nlp":2.57},{"gene":"ODAM","lfc":-2.02,"nlp":2.59},{"gene":"LGALS7","lfc":-1.93,"nlp":2.25},{"gene":"C8orf12","lfc":3.78,"nlp":2.38}
]
},
"concat": [
{
 "title": {"text": "FEV₁ change model"},
 "width": 501, "height": 396,
 "encoding": {
  "x": {"field": "lfc", "type": "quantitative", "scale": {"domain": [-5.51, 5.395], "nice": false, "zero": false},
        "axis": {"title": "Log₂ fold change", "values": [-5, -3.75, -2.5, -1.25, 0, 1.25, 2.5, 3.75, 5], "labelExpr": "datum.value % 2.5 == 0 ? format(datum.value, '.1f') : ''", "tickOpacity": {"condition": {"test": "datum.value % 2.5 == 0", "value": 1}, "value": 0}, "gridWidth": {"condition": {"test": "datum.value % 2.5 == 0", "value": 2}, "value": 1.4}}},
  "y": {"field": "nlp", "type": "quantitative", "scale": {"domain": [-0.39, 8.41], "nice": false, "zero": false},
        "axis": {"title": "−Log₁₀ P", "titlePadding": 12, "values": [0, 1, 2, 3, 4, 5, 6, 7, 8], "labelExpr": "datum.value % 2 == 0 ? format(datum.value, 'd') : ''", "tickOpacity": {"condition": {"test": "datum.value % 2 == 0", "value": 1}, "value": 0}, "gridWidth": {"condition": {"test": "datum.value % 2 == 0", "value": 2}, "value": 1.4}}}
 },
 "layer": [
  {"data": {"name": "p1_ns"}, "mark": {"type": "circle", "size": 75, "color": "#333333", "opacity": 0.85}},
  {"data": {"name": "p1_fc"}, "mark": {"type": "circle", "size": 26, "color": "#228B22", "opacity": 0.7}},
  {"data": {"name": "p1_p"}, "mark": {"type": "circle", "size": 30, "color": "#4169E1", "opacity": 0.75}},
  {"data": {"name": "p1_both"}, "mark": {"type": "circle", "size": 26, "color": "#EE0000", "opacity": 0.7}},
  {"data": {"values": [{"lfc": -2}, {"lfc": 2}]}, "mark": {"type": "rule", "color": "#444444", "strokeWidth": 0.9, "strokeDash": [4, 2.5]}, "encoding": {"y": {"datum": -0.39}, "y2": {"datum": 8.41}}},
  {"data": {"values": [{"nlp": 2}]}, "mark": {"type": "rule", "color": "#444444", "strokeWidth": 0.9, "strokeDash": [4, 2.5]}, "encoding": {"x": {"datum": -5.51}, "x2": {"datum": 5.395}}},
  {"data": {"name": "p1_lab"}, "mark": {"type": "text", "fontSize": 14, "color": "black", "font": "Liberation Sans"}, "encoding": {"text": {"field": "gene"}}}
 ]
},
{
 "title": {"text": "yb-FEV₁ change model"},
 "width": 501, "height": 396,
 "encoding": {
  "x": {"field": "lfc", "type": "quantitative", "scale": {"domain": [-7.25, 11.13], "nice": false, "zero": false},
        "axis": {"title": "Log₂ fold change", "values": [-5, -2.5, 0, 2.5, 5, 7.5, 10], "labelExpr": "datum.value % 5 == 0 ? format(datum.value, 'd') : ''", "tickOpacity": {"condition": {"test": "datum.value % 5 == 0", "value": 1}, "value": 0}, "gridWidth": {"condition": {"test": "datum.value % 5 == 0", "value": 2}, "value": 1.4}}},
  "y": {"field": "nlp", "type": "quantitative", "scale": {"domain": [-0.39, 8.41], "nice": false, "zero": false},
        "axis": {"title": "−Log₁₀ P", "titlePadding": 12, "values": [0, 1, 2, 3, 4, 5, 6, 7, 8], "labelExpr": "datum.value % 2 == 0 ? format(datum.value, 'd') : ''", "tickOpacity": {"condition": {"test": "datum.value % 2 == 0", "value": 1}, "value": 0}, "gridWidth": {"condition": {"test": "datum.value % 2 == 0", "value": 2}, "value": 1.4}}}
 },
 "layer": [
  {"data": {"name": "p2_ns"}, "mark": {"type": "circle", "size": 75, "color": "#333333", "opacity": 0.85}},
  {"data": {"name": "p2_fc"}, "mark": {"type": "circle", "size": 26, "color": "#228B22", "opacity": 0.7}},
  {"data": {"name": "p2_p"}, "mark": {"type": "circle", "size": 30, "color": "#4169E1", "opacity": 0.75}},
  {"data": {"name": "p2_both"}, "mark": {"type": "circle", "size": 26, "color": "#EE0000", "opacity": 0.7}},
  {"data": {"values": [{"lfc": -2}, {"lfc": 2}]}, "mark": {"type": "rule", "color": "#444444", "strokeWidth": 0.9, "strokeDash": [4, 2.5]}, "encoding": {"y": {"datum": -0.39}, "y2": {"datum": 8.41}}},
  {"data": {"values": [{"nlp": 2}]}, "mark": {"type": "rule", "color": "#444444", "strokeWidth": 0.9, "strokeDash": [4, 2.5]}, "encoding": {"x": {"datum": -7.25}, "x2": {"datum": 11.13}}},
  {"data": {"name": "p2_lab"}, "mark": {"type": "text", "fontSize": 14, "color": "black", "font": "Liberation Sans"}, "encoding": {"text": {"field": "gene"}}}
 ]
},
{
 "spacing": 15,
 "bounds": "flush",
 "hconcat": [
  {"width": 1, "height": 397, "data": {"values": [{"pad": 0}]}, "mark": {"type": "point", "opacity": 0}, "encoding": {}},
  {
   "title": {"text": "BMI change model"},
   "width": 481, "height": 397,
   "encoding": {
    "x": {"field": "lfc", "type": "quantitative", "scale": {"domain": [-17.82, 23.44], "nice": false, "zero": false},
          "axis": {"title": "Log₂ fold change", "values": [-15, -10, -5, 0, 5, 10, 15, 20], "labelExpr": "datum.value % 10 == 0 ? format(datum.value, 'd') : ''", "tickOpacity": {"condition": {"test": "datum.value % 10 == 0", "value": 1}, "value": 0}, "gridWidth": {"condition": {"test": "datum.value % 10 == 0", "value": 2}, "value": 1.4}}},
    "y": {"field": "nlp", "type": "quantitative", "scale": {"domain": [-0.51, 10.49], "nice": false, "zero": false},
          "axis": {"title": "−Log₁₀ P", "titlePadding": 11, "values": [0, 1.25, 2.5, 3.75, 5, 6.25, 7.5, 8.75, 10], "labelExpr": "datum.value % 2.5 == 0 ? format(datum.value, '.1f') : ''", "tickOpacity": {"condition": {"test": "datum.value % 2.5 == 0", "value": 1}, "value": 0}, "gridWidth": {"condition": {"test": "datum.value % 2.5 == 0", "value": 2}, "value": 1.4}}}
   },
   "layer": [
    {"data": {"name": "p3_ns"}, "mark": {"type": "circle", "size": 75, "color": "#333333", "opacity": 0.85}},
    {"data": {"name": "p3_fc"}, "mark": {"type": "circle", "size": 26, "color": "#228B22", "opacity": 0.7}},
    {"data": {"name": "p3_p"}, "mark": {"type": "circle", "size": 30, "color": "#4169E1", "opacity": 0.75}},
    {"data": {"name": "p3_both"}, "mark": {"type": "circle", "size": 26, "color": "#EE0000", "opacity": 0.7}},
    {"data": {"values": [{"lfc": -2}, {"lfc": 2}]}, "mark": {"type": "rule", "color": "#444444", "strokeWidth": 0.9, "strokeDash": [4, 2.5]}, "encoding": {"y": {"datum": -0.51}, "y2": {"datum": 10.49}}},
    {"data": {"values": [{"nlp": 2}]}, "mark": {"type": "rule", "color": "#444444", "strokeWidth": 0.9, "strokeDash": [4, 2.5]}, "encoding": {"x": {"datum": -17.82}, "x2": {"datum": 23.44}}},
    {"data": {"name": "p3_lab"}, "mark": {"type": "text", "fontSize": 14, "color": "black", "font": "Liberation Sans"}, "encoding": {"text": {"field": "gene"}}}
   ]
  }
 ]
}
]
}
